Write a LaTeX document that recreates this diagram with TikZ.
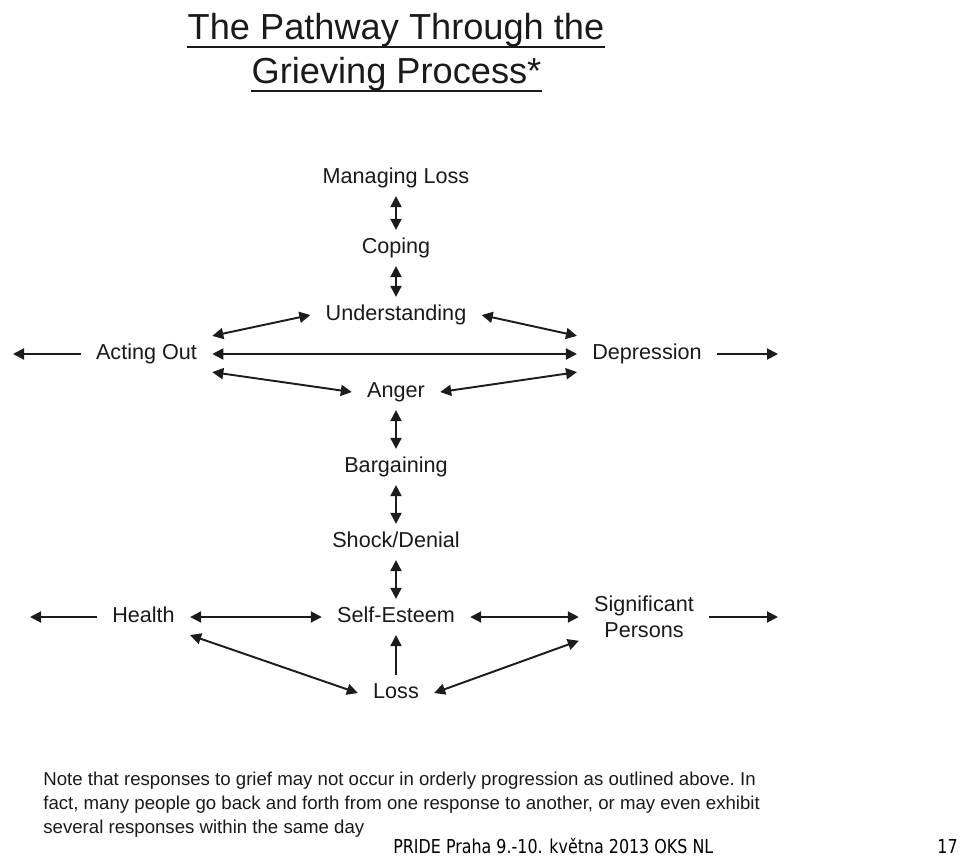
\documentclass[tikz,border=0pt]{standalone}
\usepackage{fontspec}
\setmainfont{Liberation Sans}
\newfontfamily\footfont{DejaVu Sans}[FakeStretch=0.83]
\usetikzlibrary{arrows.meta}
\definecolor{inkline}{HTML}{1C1C1C}
\definecolor{inktext}{HTML}{1A1A1A}
\tikzset{
  stagebase/.style={font=\fontsize{12.3}{14.8}\selectfont, text=inktext, inner xsep=0.3cm, inner ysep=0.16cm, align=center},
  stage/.style={stagebase, text height=0.30cm, text depth=0.09cm},
  ttl/.style={font=\fontsize{20.6}{25}\selectfont, text=inktext, inner sep=0pt, anchor=base},
  uline/.style={draw=inktext, line width=1.1pt},
  both/.style={{Triangle[length=2.2mm,width=2.2mm]}-{Triangle[length=2.2mm,width=2.2mm]}, draw=inkline, line width=1.1pt},
  one/.style={-{Triangle[length=2.2mm,width=2.2mm]}, draw=inkline, line width=1.1pt},
  note/.style={font=\fontsize{10.6}{12}\selectfont\frenchspacing, text=inktext, inner sep=0pt, anchor=base west},
  foot/.style={font=\footfont\fontsize{10.9}{13}\selectfont, text=black, inner sep=0pt},
}
\begin{document}
\begin{tikzpicture}[x=1cm,y=1cm,baseline=0cm]
  \useasboundingbox (0,0) rectangle (19.200,-17.120);
  \node[ttl] (t1) at (7.920,-0.800) {The Pathway Through the};
  \node[ttl] (t2) at (7.930,-1.680) {Grieving Process*};
  \draw[uline] ([yshift=-0.14cm]t1.base west) -- ([yshift=-0.14cm]t1.base east);
  \draw[uline] ([yshift=-0.14cm]t2.base west) -- ([yshift=-0.14cm]t2.base east);
  \node[stage] (ml) at (7.920,-3.560) {Managing Loss};
  \node[stage] (coping) at (7.920,-4.960) {Coping};
  \node[stage] (und) at (7.920,-6.300) {Understanding};
  \node[stage] (ao) at (2.930,-7.080) {Acting Out};
  \node[stage] (dep) at (12.940,-7.080) {Depression};
  \node[stage] (anger) at (7.920,-7.840) {Anger};
  \node[stage] (barg) at (7.920,-9.340) {Bargaining};
  \node[stage] (shock) at (7.920,-10.840) {Shock/Denial};
  \node[stage] (health) at (2.870,-12.340) {Health};
  \node[stage] (self) at (7.920,-12.340) {Self-Esteem};
  \node[stagebase] (sig) at (12.880,-12.340) {Significant\\Persons};
  \node[stage] (loss) at (7.920,-13.860) {Loss};
  \coordinate (aoend) at (0.260,-7.080);
  \coordinate (depend) at (15.560,-7.080);
  \coordinate (hend) at (0.600,-12.340);
  \coordinate (sigend) at (15.560,-12.340);
  \draw[both] (ml) -- (coping);
  \draw[both] (coping) -- (und);
  \draw[both] (ao.north east) -- (und.west);
  \draw[both] (und.east) -- (dep.north west);
  \draw[both] (ao) -- (dep);
  \draw[both] (ao.south east) -- (anger.west);
  \draw[both] (anger.east) -- (dep.south west);
  \draw[both] (anger) -- (barg);
  \draw[both] (barg) -- (shock);
  \draw[both] (shock) -- (self);
  \draw[one] (ao) -- (aoend);
  \draw[one] (dep) -- (depend);
  \draw[one] (health) -- (hend);
  \draw[one] (sig) -- (sigend);
  \draw[both] (health) -- (self);
  \draw[both] (self) -- (sig);
  \draw[both] (health.south east) -- (loss.west);
  \draw[both] (sig.200) -- (loss.east);
  \draw[one] (loss) -- (self);
  \node[note] (n1) at (0.860,-15.700) {Note that responses to grief may not occur in orderly progression as outlined above. In};
  \node[note] (n2) at (0.860,-16.180) {fact, many people go back and forth from one response to another, or may even exhibit};
  \node[note] (n3) at (0.860,-16.660) {several responses within the same day};
  \node[foot, anchor=base west] (ft) at (7.860,-17.060) {PRIDE Praha 9.-10. května 2013 OKS NL};
  \node[foot, anchor=base east] (pg) at (19.160,-17.060) {17};
\end{tikzpicture}
\end{document}
